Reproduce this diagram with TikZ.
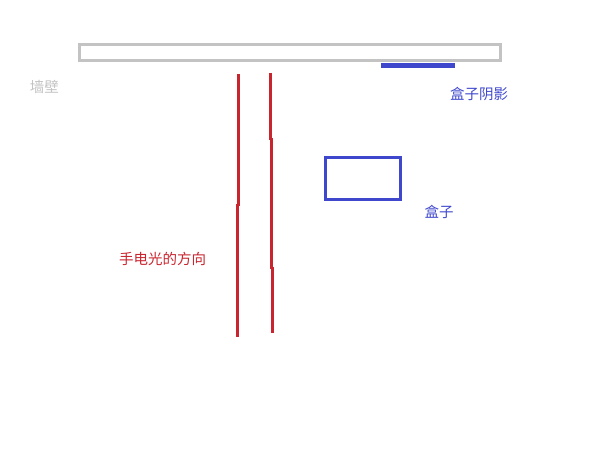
\documentclass[tikz,border=0pt]{standalone}
\usepackage{fontspec}
\usepackage{tikz}
\newfontfamily\cjk{Noto Sans CJK SC}
\definecolor{wall}{HTML}{C3C3C3}
\definecolor{box}{HTML}{3F48CC}
\definecolor{beam}{HTML}{C9252F}
\tikzset{
  wallline/.style={draw=wall, line width=3pt},
  boxline/.style={draw=box, line width=3pt},
  beamline/.style={draw=beam, line width=3pt},
  shadowbar/.style={fill=box, draw=none},
  lbl/.style={font=\cjk\fontsize{14.5}{17}\selectfont, inner sep=0pt}
}
\begin{document}
\begin{tikzpicture}[x=1pt,y=-1pt]
  \useasboundingbox (0,0) rectangle (614,460);

  % wall
  \draw[wallline] (79.5,44.5) rectangle (500.5,60.5);
  \fill[shadowbar] (381,63) rectangle (455,68.5);

  % box
  \draw[boxline] (325.5,157.5) rectangle (400.5,199.5);

  % flashlight beam
  \draw[beamline] (238.3,74) -- (238.3,206);
  \draw[beamline] (237.3,204) -- (237.3,337);
  \draw[beamline] (270.3,73) -- (270.3,140);
  \draw[beamline] (271.3,138) -- (271.3,269);
  \draw[beamline] (272.1,267) -- (272.1,333);

  \node[lbl, text=wall] (wlabel) at (44.5,87) {墙壁};
  \node[lbl, text=box] (slabel) at (479,94) {盒子阴影};
  \node[lbl, text=box] (blabel) at (439,212) {盒子};
  \node[lbl, text=beam] (flabel) at (162.5,259) {手电光的方向};
\end{tikzpicture}
\end{document}
